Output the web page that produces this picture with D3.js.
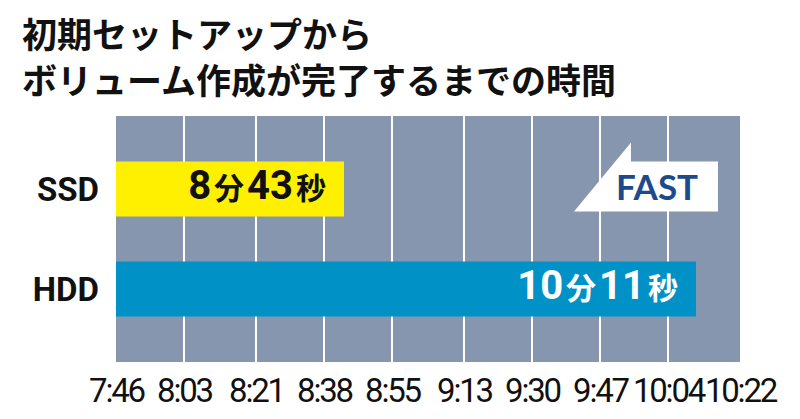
<!DOCTYPE html>
<html>
<head>
<meta charset="utf-8">
<script src="https://cdn.jsdelivr.net/npm/d3@7"></script>
<style>
  html, body { margin: 0; padding: 0; background: #ffffff; }
  svg { display: block; }
</style>
</head>
<body>
<svg id="chart" width="800" height="419"></svg>
<script>
// ---- data ----
const titleLines = ["初期セットアップから", "ボリューム作成が完了するまでの時間"];
const categories = ["SSD", "HDD"];
const valuesSec = [523, 611];           // 8:43, 10:11
const valueLabels = [["8", "分", "43", "秒"], ["10", "分", "11", "秒"]];
const tickValues = [466, 483, 501, 518, 535, 553, 570, 587, 604, 622];
const tickLabels = ["7:46", "8:03", "8:21", "8:38", "8:55", "9:13", "9:30", "9:47", "10:04", "10:22"];
const annotationText = "FAST";

// ---- layout ----
const plot = { left: 116, right: 740, top: 116, bottom: 362 };
const colors = { bg: "#8796af", grid: "#ffffff", bars: ["#fff000", "#0091c7"], barText: ["#111111", "#ffffff"], fast: "#1d4a8a" };

const svg = d3.select("#chart");

const x = d3.scaleLinear().domain([tickValues[0], tickValues[tickValues.length - 1]]).range([plot.left, plot.right]);
const y = d3.scaleBand().domain(categories).range([plot.top, plot.bottom]).paddingInner(0.45).paddingOuter(0.455);

// title
svg.append("g").selectAll("text").data(titleLines).join("text")
  .attr("x", 22).attr("y", (d, i) => 48 + i * 46)
  .attr("font-family", "'Noto Sans CJK JP', sans-serif")
  .attr("font-weight", 700).attr("font-size", 35).attr("fill", "#111")
  .text(d => d);

// plot background
svg.append("rect")
  .attr("x", plot.left).attr("y", plot.top)
  .attr("width", plot.right - plot.left).attr("height", plot.bottom - plot.top)
  .attr("fill", colors.bg);

// grid lines (interior ticks)
svg.append("g").selectAll("line").data(tickValues.slice(1, -1)).join("line")
  .attr("x1", d => x(d)).attr("x2", d => x(d))
  .attr("y1", plot.top).attr("y2", plot.bottom)
  .attr("stroke", colors.grid).attr("stroke-width", 2);

// x axis labels
const xAxis = d3.axisBottom(x).tickValues(tickValues).tickFormat((d, i) => tickLabels[i]).tickSize(0).tickPadding(0);
const gx = svg.append("g").attr("transform", `translate(0,${plot.bottom})`).call(xAxis);
gx.select(".domain").remove();
gx.selectAll("text")
  .attr("dy", null).attr("y", 40)
  .attr("font-family", "Roboto, sans-serif").attr("font-size", 33)
  .attr("letter-spacing", "-2.2px").attr("fill", "#111");

// y labels
svg.append("g").selectAll("text").data(categories).join("text")
  .attr("x", 99).attr("y", d => y(d) + y.bandwidth() / 2 + 12)
  .attr("text-anchor", "end")
  .attr("font-family", "Roboto, sans-serif").attr("font-weight", 700).attr("font-size", 33)
  .attr("fill", "#111")
  .text(d => d);

// bars
const data = categories.map((c, i) => ({ c, v: valuesSec[i], parts: valueLabels[i], i }));
svg.append("g").selectAll("rect").data(data).join("rect")
  .attr("x", x(tickValues[0]))
  .attr("y", d => y(d.c))
  .attr("width", d => x(d.v) - x(tickValues[0]))
  .attr("height", y.bandwidth())
  .attr("fill", d => colors.bars[d.i]);

// bar value labels
const lbl = svg.append("g").selectAll("text").data(data).join("text")
  .attr("x", d => x(d.v) - 18)
  .attr("y", d => y(d.c) + y.bandwidth() / 2 + 10)
  .attr("text-anchor", "end")
  .attr("fill", d => colors.barText[d.i])
  .attr("font-weight", 700);
lbl.selectAll("tspan").data(d => d.parts.map((p, k) => ({ p, k }))).join("tspan")
  .attr("dx", d => d.k === 0 ? 0 : 3)
  .attr("font-family", d => d.k % 2 === 0 ? "Roboto, sans-serif" : "'Noto Sans CJK JP', sans-serif")
  .attr("font-size", d => d.k % 2 === 0 ? 40 : 30)
  .text(d => d.p);

// FAST annotation arrow
const ssdBottom = y("SSD") + y.bandwidth() - 5;
const aRight = plot.right - 22, aTipX = aRight - 144, aNeckX = aRight - 87;
const aTop = ssdBottom - 69, aBodyTop = ssdBottom - 50;
svg.append("path")
  .attr("d", `M${aTipX},${ssdBottom}L${aNeckX},${aTop}L${aNeckX},${aBodyTop}L${aRight},${aBodyTop}L${aRight},${ssdBottom}Z`)
  .attr("fill", "#ffffff");
svg.append("text")
  .attr("x", aRight - 61).attr("y", ssdBottom - 12)
  .attr("text-anchor", "middle")
  .attr("font-family", "Lato, sans-serif").attr("font-weight", 700).attr("font-size", 35)
  .attr("fill", colors.fast)
  .text(annotationText);
</script>
</body>
</html>
